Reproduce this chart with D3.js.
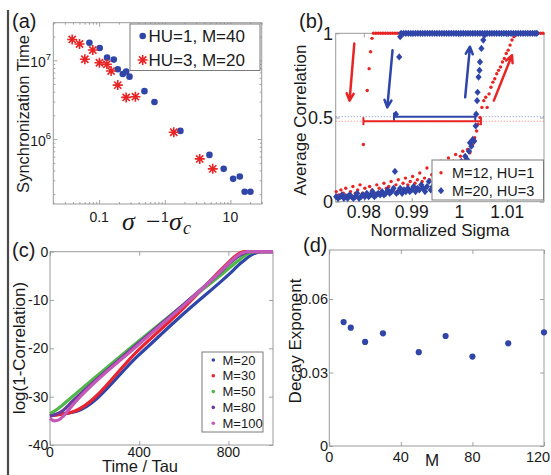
<!DOCTYPE html>
<html>
<head>
<meta charset="utf-8">
<script src="https://cdn.jsdelivr.net/npm/d3@7"></script>
<style>
  body { margin: 0; background: #fff; }
  svg { display: block; }
  text { font-family: 'Liberation Sans', Arial, sans-serif; fill: #1a1a1a; }
</style>
</head>
<body>
<div id="chart"></div>
<script>
// ---------- (a) synchronization time ----------
const aBlueX = [0.071, 0.102, 0.132, 0.167, 0.192, 0.229, 0.258, 0.290, 0.490, 0.696, 1.73, 4.79, 7.9, 11.0, 13.9, 16.5, 20.2];
const aBlueY = [1.67e7, 1.43e7, 1.08e7, 1.02e7, 7.7e6, 6.7e6, 7.2e6, 6.2e6, 4.06e6, 2.96e6, 1.27e6, 6.3e5, 4.19e5, 3.13e5, 3.35e5, 2.15e5, 2.15e5];
const aRedX = [0.0388, 0.0502, 0.0605, 0.080, 0.101, 0.131, 0.152, 0.192, 0.258, 0.357, 1.37, 3.41, 5.38];
const aRedY = [1.84e7, 1.61e7, 1.03e7, 1.35e7, 9.3e6, 8.9e6, 7.3e6, 4.84e6, 3.38e6, 3.45e6, 1.22e6, 5.6e5, 4.19e5];
const aXTicks = [0.1, 1, 10];
const aXLabels = ["0.1", "1", "10"];
const aYTicks = [1e6, 1e7];
const aYExp = ["6", "7"];
const aLegend = ["HU=1, M=40", "HU=3, M=20"];

// ---------- (b) hysteresis ----------
const bRedX = [
  // upper branch
  0.9820, 0.9825, 0.9830, 0.9835, 0.9840, 0.9845, 0.9850, 0.9855, 0.9860, 0.9865, 0.9870, 0.9875, 0.9880, 0.9885, 0.9890,
  0.9895, 0.9900, 0.9905, 0.9910, 0.9915, 0.9920, 0.9925, 0.9930, 0.9935, 0.9940, 0.9945, 0.9950, 0.9955, 0.9960, 0.9965,
  0.9970, 0.9975, 0.9980, 0.9985, 0.9990, 0.9995, 1.0000, 1.0005, 1.0010, 1.0015, 1.0020, 1.0025, 1.0030, 1.0035, 1.0040,
  1.0045, 1.0050, 1.0055, 1.0060, 1.0065, 1.0070, 1.0075, 1.0080, 1.0085, 1.0090, 1.0095, 1.0100, 1.0105, 1.0110, 1.0115,
  1.0120, 1.0125, 1.0130, 1.0135, 1.0140, 1.0145, 1.0150, 1.0155, 1.0160, 1.0165, 1.0170, 1.0175,
  // drop
  0.9817, 0.9814, 0.9811, 0.9807, 0.9799,
  // lower branch
  0.9742, 0.9747, 0.9752, 0.9757, 0.9762, 0.9767, 0.9772, 0.9777, 0.9782, 0.9787, 0.9792, 0.9797, 0.9802, 0.9807, 0.9812,
  0.9817, 0.9822, 0.9827, 0.9832, 0.9837, 0.9842, 0.9847, 0.9852, 0.9857, 0.9862, 0.9867, 0.9872, 0.9877, 0.9882, 0.9887,
  0.9892, 0.9897, 0.9902, 0.9907, 0.9912, 0.9917, 0.9922, 0.9927, 0.9932, 0.9937, 0.9942, 0.9947, 0.9952, 0.9957, 0.9962,
  0.9967, 0.9972, 0.9977, 0.9982, 0.9987, 0.9992, 0.9997, 1.0002, 1.0007, 1.0012, 1.0017, 1.0022, 1.0027, 1.0032, 1.0036, 1.0039,
  // rising
  1.0043, 1.0047, 1.0051, 1.0055, 1.0058, 1.0062, 1.0066, 1.0070, 1.0074, 1.0078, 1.0082, 1.0086, 1.0090, 1.0094, 1.0098,
  1.0102, 1.0106, 1.0110, 1.0114, 1.0118
];
const bRedY = [
  1, 1, 1, 1, 1, 1, 1, 1, 1, 1, 1, 1, 1, 1, 1,
  1, 1, 1, 1, 1, 1, 1, 1, 1, 1, 1, 1, 1, 1, 1,
  1, 1, 1, 1, 1, 1, 1, 1, 1, 1, 1, 1, 1, 1, 1,
  1, 1, 1, 1, 1, 1, 1, 1, 1, 1, 1, 1, 1, 1, 1,
  1, 1, 1, 1, 1, 1, 1, 1, 1, 1, 1, 1,
  0.97, 0.89, 0.79, 0.66, 0.34,
  0.06, 0.04, 0.07, 0.05, 0.08, 0.04, 0.06, 0.09, 0.05, 0.07, 0.10, 0.05, 0.08, 0.04, 0.09,
  0.07, 0.05, 0.10, 0.08, 0.06, 0.11, 0.08, 0.09, 0.12, 0.07, 0.10, 0.13, 0.08, 0.11, 0.14,
  0.10, 0.12, 0.15, 0.11, 0.13, 0.17, 0.12, 0.14, 0.20, 0.13, 0.16, 0.22, 0.15, 0.18, 0.24,
  0.17, 0.21, 0.26, 0.20, 0.24, 0.28, 0.22, 0.27, 0.30, 0.25, 0.31, 0.29, 0.34, 0.38, 0.42, 0.46,
  0.50, 0.56, 0.60, 0.62, 0.56, 0.64, 0.68, 0.71, 0.73, 0.76, 0.78, 0.80, 0.83, 0.85, 0.88,
  0.90, 0.93, 0.96, 0.98, 0.99
];
const bBlueX = [
  // upper branch
  0.9878, 0.9883, 0.9888, 0.9893, 0.9898, 0.9903, 0.9908, 0.9913, 0.9918, 0.9923, 0.9928, 0.9933, 0.9938, 0.9943, 0.9948,
  0.9953, 0.9958, 0.9963, 0.9968, 0.9973, 0.9978, 0.9983, 0.9988, 0.9993, 0.9998, 1.0003, 1.0008, 1.0013, 1.0018, 1.0023,
  1.0028, 1.0033, 1.0038, 1.0043, 1.0048, 1.0053, 1.0058, 1.0063, 1.0068, 1.0073, 1.0078, 1.0083, 1.0088, 1.0093, 1.0098,
  1.0103, 1.0108, 1.0113, 1.0118, 1.0123, 1.0128, 1.0133, 1.0138, 1.0143, 1.0148, 1.0153, 1.0158, 1.0162,
  // drop
  0.9876, 0.9874, 0.9867,
  // lower branch
  0.9742, 0.9746, 0.9750, 0.9754, 0.9758, 0.9762, 0.9766, 0.9770, 0.9774, 0.9778, 0.9782, 0.9786, 0.9790, 0.9794, 0.9798,
  0.9802, 0.9806, 0.9810, 0.9814, 0.9818, 0.9822, 0.9826, 0.9830, 0.9834, 0.9838, 0.9842, 0.9846, 0.9850, 0.9854, 0.9858,
  0.9862, 0.9865, 0.9868, 0.9872, 0.9876, 0.9880, 0.9884, 0.9888, 0.9892, 0.9896, 0.9900, 0.9904, 0.9908, 0.9912, 0.9916,
  0.9920, 0.9924, 0.9928, 0.9932, 0.9936, 0.9940, 0.9944, 0.9948, 0.9952, 0.9956, 0.9960, 0.9964, 0.9968, 0.9972, 0.9976,
  0.9980, 0.9984, 0.9988, 0.9992, 0.9996, 1.0000, 1.0004, 1.0008, 1.0012, 1.0016, 1.0020, 1.0022, 1.0025, 1.0028, 1.0031, 1.0034,
  // jump
  1.0035, 1.0037, 1.0038, 1.0040, 1.0042, 1.0043, 1.0046, 1.0050, 1.0053
];
const bBlueY = [
  1, 1, 1, 1, 1, 1, 1, 1, 1, 1, 1, 1, 1, 1, 1,
  1, 1, 1, 1, 1, 1, 1, 1, 1, 1, 1, 1, 1, 1, 1,
  1, 1, 1, 1, 1, 1, 1, 1, 1, 1, 1, 1, 1, 1, 1,
  1, 1, 1, 1, 1, 1, 1, 1, 1, 1, 1, 1, 1,
  0.98, 0.86, 0.52,
  0.03, 0.02, 0.03, 0.04, 0.02, 0.03, 0.02, 0.04, 0.03, 0.02, 0.03, 0.05, 0.02, 0.03, 0.04,
  0.03, 0.05, 0.03, 0.04, 0.06, 0.03, 0.04, 0.05, 0.04, 0.06, 0.04, 0.05, 0.07, 0.05, 0.06,
  0.08, 0.18, 0.05, 0.06, 0.08, 0.05, 0.07, 0.06, 0.08, 0.06, 0.07, 0.09, 0.06, 0.08, 0.07,
  0.10, 0.08, 0.06, 0.09, 0.12, 0.07, 0.09, 0.11, 0.08, 0.10, 0.12, 0.09, 0.11, 0.13, 0.10,
  0.14, 0.17, 0.15, 0.19, 0.18, 0.22, 0.24, 0.21, 0.27, 0.25, 0.30, 0.35, 0.33, 0.37, 0.36, 0.45,
  0.52, 0.60, 0.65, 0.74, 0.78, 0.83, 0.91, 0.96, 0.99
];
const bXTicks = [0.98, 0.99, 1, 1.01];
const bXLabels = ["0.98", "0.99", "1", "1.01"];
const bYTicks = [0, 0.5, 1];
const bYLabels = ["0", "0.5", "1"];
const bLegend = ["M=12, HU=1", "M=20, HU=3"];
// arrows and hysteresis widths, in data units
const bArrows = [
  { x1: 0.9780, y1: 0.94, x2: 0.9770, y2: 0.60, c: "red" },
  { x1: 0.9860, y1: 0.90, x2: 0.9849, y2: 0.56, c: "blue" },
  { x1: 1.0012, y1: 0.62, x2: 1.0022, y2: 0.92, c: "blue" },
  { x1: 1.0072, y1: 0.60, x2: 1.0110, y2: 0.87, c: "red" }
];
const bWidths = [
  { x1: 0.9863, x2: 1.0033, y: 0.505, c: "blue" },
  { x1: 0.9799, x2: 1.0045, y: 0.478, c: "red" }
];

// ---------- (c) decay curves ----------
const cSeries = ["M=20", "M=30", "M=50", "M=80", "M=100"];
const cT20 = [0, 40, 80, 120, 400, 600, 800, 860, 910, 950, 1000];
const cV20 = [-34, -33.6, -33.4, -33, -21.3, -12.8, -4.8, -2.2, -0.5, 0, 0];
const cT30 = [0, 40, 80, 110, 400, 600, 740, 800, 840, 870, 1000];
const cV30 = [-34, -33.7, -33.4, -33, -20.2, -11.6, -5, -2.2, -0.6, 0, 0];
const cT50 = [0, 20, 50, 80, 400, 600, 780, 840, 890, 920, 1000];
const cV50 = [-33.5, -33, -32, -30.8, -18.4, -10.9, -4.3, -2, -0.4, 0, 0];
const cT80 = [0, 30, 60, 100, 400, 600, 760, 820, 870, 900, 1000];
const cV80 = [-34, -33.6, -32.8, -31, -18.8, -10.9, -4.4, -1.8, -0.3, 0, 0];
const cT100 = [0, 20, 40, 60, 100, 400, 600, 760, 820, 860, 890, 1000];
const cV100 = [-34.5, -35, -34.8, -34, -31.8, -19.1, -11.1, -4.3, -1.6, -0.3, 0, 0];
const cXTicks = [0, 400, 800];
const cYTicks = [0, -10, -20, -30, -40];

// ---------- (d) decay exponent ----------
const dM = [8, 12, 20, 30, 50, 65, 80, 100, 120];
const dExp = [0.0506, 0.0483, 0.0425, 0.0460, 0.0383, 0.0449, 0.0365, 0.0419, 0.0464];
const dXTicks = [0, 40, 80, 120];
const dYTicks = [0, 0.03, 0.06];
const dYLabels = ["0", "0.03", "0.06"];

// ---------- drawing ----------
const BLUE = "#2f45a8", RED = "#e82424";
const col = { red: RED, blue: BLUE };
const cColors = ["#2f45a8", "#e82430", "#4fb848", "#6a3c9e", "#c458b8"];

const svg = d3.select("#chart").append("svg")
    .attr("width", 551)
    .attr("height", 475);

// left border of the figure
svg.append("line")
    .attr("x1", 8).attr("x2", 8).attr("y1", 10).attr("y2", 475)
    .attr("stroke", "#4a4a4a").attr("stroke-width", 2.2);

// box + inward ticks on all four sides
function frame(x, y, xt, yt, xMinor, yMinor) {
    const [x0, x1] = x.range();
    const [y0, y1] = y.range();
    const g = svg.append("g");
    const sides = [
        [d3.axisBottom(x), `translate(0,${y0})`, xt, xMinor],
        [d3.axisTop(x), `translate(0,${y1})`, xt, xMinor],
        [d3.axisLeft(y), `translate(${x0},0)`, yt, yMinor],
        [d3.axisRight(y), `translate(${x1},0)`, yt, yMinor]
    ];
    sides.forEach(([ax, tr, major, minor]) => {
        g.append("g").attr("transform", tr)
            .call(ax.tickValues(major).tickSize(-4).tickFormat(""));
        if (minor) {
            g.append("g").attr("transform", tr)
                .call(ax.tickValues(minor).tickSize(-2).tickFormat(""));
        }
    });
    g.selectAll(".domain").remove();
    g.selectAll(".tick line").attr("stroke", "#8c8c8c").attr("stroke-width", 0.8);
    g.append("rect")
        .attr("x", x0).attr("y", y1)
        .attr("width", x1 - x0).attr("height", y0 - y1)
        .attr("fill", "none").attr("stroke", "#9a9a9a").attr("stroke-width", 1);
    return g;
}

function label(txt, x, y, size, anchor, rot) {
    const t = svg.append("text")
        .attr("x", x).attr("y", y)
        .attr("font-size", size + "px")
        .attr("text-anchor", anchor || "middle")
        .text(txt);
    if (rot) t.attr("transform", `rotate(-90,${x},${y})`);
    return t;
}

const starPath = "M-5,0L5,0M0,-5L0,5M-3.6,-3.6L3.6,3.6M-3.6,3.6L3.6,-3.6";
const diamondPath = "M0,-3.6L3.1,0L0,3.6L-3.1,0Z";

// ===== (a) =====
const ax = d3.scaleLog().domain([0.02, 30]).range([53.3, 261.7]);
const ay = d3.scaleLog().domain([1.5e5, 3e7]).range([204, 22.7]);
const aXMinor = [], aYMinor = [];
[0.01, 0.1, 1, 10].forEach(p => d3.range(2, 10).forEach(k => {
    const v = p * k;
    if (v >= 0.02 && v <= 30 && !aXTicks.includes(v)) aXMinor.push(v);
}));
[1e5, 1e6, 1e7].forEach(p => d3.range(2, 10).forEach(k => {
    const v = p * k;
    if (v >= 1.5e5 && v <= 3e7) aYMinor.push(v);
}));
frame(ax, ay, aXTicks, aYTicks, aXMinor, aYMinor);

svg.append("g").selectAll("circle")
    .data(aBlueX.map((v, i) => [v, aBlueY[i]]))
    .enter().append("circle")
    .attr("cx", d => ax(d[0])).attr("cy", d => ay(d[1]))
    .attr("r", 3.3).attr("fill", BLUE);
svg.append("g").selectAll("path")
    .data(aRedX.map((v, i) => [v, aRedY[i]]))
    .enter().append("path")
    .attr("d", starPath)
    .attr("transform", d => `translate(${ax(d[0])},${ay(d[1])})`)
    .attr("stroke", RED).attr("stroke-width", 1.6).attr("fill", "none");

aXTicks.forEach((v, i) => label(aXLabels[i], ax(v), 221.5, 14));
aYTicks.forEach((v, i) => {
    const t = label("10", 51, ay(v) + 7, 14, "end");
    t.append("tspan").attr("dy", -7).attr("font-size", "9.5px").text(aYExp[i]);
});
label("Synchronization Time", 29, 114, 16.5, "middle", true);
// sigma - sigma_c, glyphs placed like the original
const sig = svg.append("text")
    .attr("y", 230)
    .attr("font-size", "26px")
    .style("font-family", "'Liberation Serif', 'DejaVu Serif', serif")
    .style("font-style", "italic");
sig.append("tspan").attr("x", 122).text("σ");
sig.append("tspan").attr("x", 146).style("font-style", "normal").text("−");
sig.append("tspan").attr("x", 169).text("σ");
sig.append("tspan").attr("x", 183).attr("font-size", "18px").attr("dy", 4).text("c");
label("(a)", 12, 28, 20, "start");

// legend (a)
svg.append("rect").attr("x", 130).attr("y", 24).attr("width", 130).attr("height", 46.5)
    .attr("fill", "#fff").attr("stroke", "#7a7a7a").attr("stroke-width", 1);
svg.append("circle").attr("cx", 142.7).attr("cy", 36).attr("r", 3.3).attr("fill", BLUE);
svg.append("path").attr("d", starPath).attr("transform", "translate(142.7,60)")
    .attr("stroke", RED).attr("stroke-width", 1.6).attr("fill", "none");
label(aLegend[0], 148.5, 42, 17, "start");
label(aLegend[1], 148.5, 66, 17, "start");

// ===== (b) =====
const bx = d3.scaleLinear().domain([0.9741, 1.0177]).range([335.7, 544]);
const by = d3.scaleLinear().domain([0, 1]).range([201.7, 33.3]);
frame(bx, by, bXTicks, bYTicks);

// dotted reference lines at the half levels
bWidths.forEach(w => {
    svg.append("line")
        .attr("x1", bx.range()[0]).attr("x2", bx.range()[1])
        .attr("y1", by(w.y)).attr("y2", by(w.y))
        .attr("stroke", col[w.c]).attr("stroke-width", 0.9)
        .attr("stroke-dasharray", "1.2,1.8").attr("opacity", 0.55);
});

svg.append("g").selectAll("circle")
    .data(bRedX.map((v, i) => [v, bRedY[i]]))
    .enter().append("circle")
    .attr("cx", d => bx(d[0])).attr("cy", d => by(d[1]))
    .attr("r", 1.7).attr("fill", RED);
svg.append("g").selectAll("path")
    .data(bBlueX.map((v, i) => [v, bBlueY[i]]))
    .enter().append("path")
    .attr("d", diamondPath)
    .attr("transform", d => `translate(${bx(d[0])},${by(d[1])})`)
    .attr("fill", BLUE);

// hysteresis widths with end caps
bWidths.forEach(w => {
    const g = svg.append("g").attr("stroke", col[w.c]).attr("stroke-width", 2);
    g.append("line").attr("x1", bx(w.x1)).attr("x2", bx(w.x2)).attr("y1", by(w.y)).attr("y2", by(w.y));
    [w.x1, w.x2].forEach(v => g.append("line")
        .attr("x1", bx(v)).attr("x2", bx(v))
        .attr("y1", by(w.y) - 4).attr("y2", by(w.y) + 4));
});

// arrows
bArrows.forEach(a => {
    const x1 = bx(a.x1), y1 = by(a.y1), x2 = bx(a.x2), y2 = by(a.y2);
    const ang = Math.atan2(y2 - y1, x2 - x1);
    const L = 8, spread = 0.45;
    const p1 = [x2 - L * Math.cos(ang - spread), y2 - L * Math.sin(ang - spread)];
    const p2 = [x2 - L * Math.cos(ang + spread), y2 - L * Math.sin(ang + spread)];
    svg.append("path")
        .attr("d", `M${x1},${y1}L${x2},${y2}M${p1[0]},${p1[1]}L${x2},${y2}L${p2[0]},${p2[1]}`)
        .attr("stroke", col[a.c]).attr("stroke-width", 2.5)
        .attr("fill", "none").attr("stroke-linecap", "round").attr("stroke-linejoin", "round");
});

bXTicks.forEach((v, i) => label(bXLabels[i], bx(v), 218, 17.5));
bYTicks.forEach((v, i) => label(bYLabels[i], 333, by(v) + 6.3, 18, "end"));
label("Average Correlation", 306, 120, 17, "middle", true);
label("Normalized Sigma", 440, 236, 17);
label("(b)", 299, 28, 20, "start");

// legend (b)
svg.append("rect").attr("x", 432).attr("y", 160).attr("width", 111.5).attr("height", 40)
    .attr("fill", "#fff").attr("stroke", "#7a7a7a").attr("stroke-width", 1);
svg.append("circle").attr("cx", 441).attr("cy", 172.7).attr("r", 1.7).attr("fill", RED);
svg.append("path").attr("d", diamondPath).attr("transform", "translate(441,190.7)").attr("fill", BLUE);
label(bLegend[0], 452, 177.5, 14.5, "start");
label(bLegend[1], 452, 195.5, 14.5, "start");

// ===== (c) =====
const cx = d3.scaleLinear().domain([0, 1000]).range([50, 273]);
const cy = d3.scaleLinear().domain([-40, 0]).range([445, 251.7]);
frame(cx, cy, cXTicks, cYTicks);

const cData = [
    cT20.map((t, i) => [t, cV20[i]]),
    cT30.map((t, i) => [t, cV30[i]]),
    cT50.map((t, i) => [t, cV50[i]]),
    cT80.map((t, i) => [t, cV80[i]]),
    cT100.map((t, i) => [t, cV100[i]])
];
const cLine = d3.line()
    .x(d => cx(d[0]))
    .y(d => cy(d[1]))
    .curve(d3.curveMonotoneX);
svg.append("g").selectAll("path")
    .data(cData)
    .enter().append("path")
    .attr("d", cLine)
    .attr("fill", "none")
    .attr("stroke", (d, i) => cColors[i])
    .attr("stroke-width", 3.2)
    .attr("stroke-linejoin", "round");

cXTicks.forEach(v => label(String(v), cx(v), 456.5, 14));
cYTicks.forEach(v => label(String(v), 48.3, cy(v) + 5, 14, "end"));
label("log(1-Correlation)", 25, 348, 17, "middle", true);
label("Time / Tau", 140, 472, 16.5);
label("(c)", 12, 257, 20, "start");

// legend (c)
svg.append("rect").attr("x", 202).attr("y", 352).attr("width", 61).attr("height", 80)
    .attr("fill", "#fff").attr("stroke", "#7a7a7a").attr("stroke-width", 1);
cSeries.forEach((s, i) => {
    const yy = 360 + i * 15.8;
    svg.append("circle").attr("cx", 213.3).attr("cy", yy).attr("r", 1.8).attr("fill", cColors[i]);
    label(s, 222.5, yy + 4.5, 13, "start");
});

// ===== (d) =====
const dx = d3.scaleLinear().domain([0, 120]).range([329.3, 544]);
const dy = d3.scaleLinear().domain([0, 0.08]).range([446, 250]);
frame(dx, dy, dXTicks, dYTicks);

svg.append("g").selectAll("circle")
    .data(dM.map((m, i) => [m, dExp[i]]))
    .enter().append("circle")
    .attr("cx", d => dx(d[0])).attr("cy", d => dy(d[1]))
    .attr("r", 3.1).attr("fill", BLUE);

// last label pulled in so it stays inside the page
dXTicks.forEach(v => label(String(v), Math.min(dx(v), 538), 462, 14.5));
dYTicks.forEach((v, i) => label(dYLabels[i], 328, dy(v) + 5, 14.5, "end"));
label("Decay Exponent", 301, 341, 17, "middle", true);
label("M", 432, 466, 17);
label("(d)", 303, 252, 20, "start");
</script>
</body>
</html>
